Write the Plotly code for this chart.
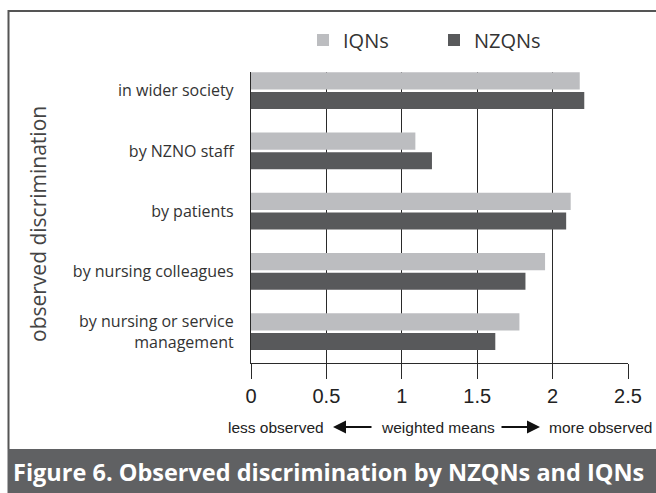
import plotly.graph_objects as go

categories = ["in wider society", "by NZNO staff", "by patients",
              "by nursing colleagues", "by nursing or service<br>management"]
iqn_values = [2.18, 1.09, 2.12, 1.95, 1.78]
nzqn_values = [2.21, 1.20, 2.09, 1.82, 1.62]
x_ticks = [0, 0.5, 1, 1.5, 2, 2.5]
x_tick_labels = ["0", "0.5", "1", "1.5", "2", "2.5"]

W, H = 656, 493
L, R, T, B = 251, 628, 72, 363


def px(x):
    return (x - L) / (R - L)


def py(y):
    return (B - y) / (B - T)


fig = go.Figure()
fig.add_trace(go.Bar(y=categories, x=iqn_values, orientation="h", name="IQNs",
                     marker=dict(color="#bcbdc0", line=dict(width=0))))
fig.add_trace(go.Bar(y=categories, x=nzqn_values, orientation="h", name="NZQNs",
                     marker=dict(color="#58595b", line=dict(width=0))))

fig.update_layout(
    width=W, height=H,
    margin=dict(l=L, r=W - R, t=T, b=H - B, pad=0),
    paper_bgcolor="white", plot_bgcolor="white",
    barmode="group", bargap=0.35, bargroupgap=0.13,
    font=dict(family="Open Sans, Liberation Sans, sans-serif", color="#333"),
    legend=dict(orientation="h", x=px(303), y=py(40), xanchor="left", yanchor="middle",
                font=dict(size=20, family="Open Sans", color="#333"),
                entrywidth=86, entrywidthmode="pixels", traceorder="normal",
                bgcolor="rgba(0,0,0,0)"),
    xaxis=dict(range=[0, 2.5], tickvals=x_ticks, ticktext=x_tick_labels,
               showgrid=True, gridcolor="#2a2a2a", gridwidth=1.3,
               zeroline=False, showline=True, linecolor="#2a2a2a", linewidth=1.3,
               ticks="outside", ticklen=15, tickcolor="#2a2a2a", tickwidth=1.3,
               tickfont=dict(family="Liberation Sans, Arial", size=20, color="#222")),
    yaxis=dict(type="category", range=[4.52, -0.31], showgrid=False, zeroline=False,
               showline=True, linecolor="#2a2a2a", linewidth=1.3, ticks="",
               ticklabelstandoff=13,
               tickfont=dict(family="Open Sans, sans-serif", size=16, color="#333")),
)

shapes = []
shapes.append(dict(type="line", xref="paper", yref="paper", x0=px(8.5), x1=px(8.5),
                   y0=py(10), y1=py(449), line=dict(color="#555", width=2)))
shapes.append(dict(type="line", xref="paper", yref="paper", x0=px(8), x1=px(660),
                   y0=py(11), y1=py(11), line=dict(color="#555", width=2)))
shapes.append(dict(type="rect", xref="paper", yref="paper", x0=px(7.5), x1=px(660),
                   y0=py(449), y1=py(497), fillcolor="#606163", line=dict(width=0),
                   layer="below"))
fig.update_layout(shapes=shapes)

ann = []
ann.append(dict(text="Figure 6. Observed discrimination by NZQNs and IQNs", xref="paper", yref="paper",
                x=px(11), y=py(472), xanchor="left", yanchor="middle", showarrow=False,
                font=dict(family="Open Sans, sans-serif", size=23.5, color="white", weight="bold")))
ann.append(dict(text="observed discrimination", xref="paper", yref="paper",
                x=px(38), y=py(224), xanchor="center", yanchor="middle", textangle=-90,
                showarrow=False, font=dict(family="Open Sans, sans-serif", size=21, color="#444")))
ann.append(dict(text="less observed", xref="paper", yref="paper", x=px(326), y=py(427),
                xanchor="right", yanchor="middle", showarrow=False,
                font=dict(family="Liberation Sans, Arial", size=15.5, color="#222")))
ann.append(dict(text="weighted means", xref="paper", yref="paper", x=px(438), y=py(427),
                xanchor="center", yanchor="middle", showarrow=False,
                font=dict(family="Liberation Sans, Arial", size=15.5, color="#222")))
ann.append(dict(text="more observed", xref="paper", yref="paper", x=px(547), y=py(427),
                xanchor="left", yanchor="middle", showarrow=False,
                font=dict(family="Liberation Sans, Arial", size=15.5, color="#222")))
ann.append(dict(text="", xref="paper", yref="paper", x=px(333), y=py(427), ax=40, ay=0,
                showarrow=True, arrowhead=2, arrowsize=1.3, arrowwidth=2, arrowcolor="#111"))
ann.append(dict(text="", xref="paper", yref="paper", x=px(540), y=py(427), ax=-40, ay=0,
                showarrow=True, arrowhead=2, arrowsize=1.3, arrowwidth=2, arrowcolor="#111"))
fig.update_layout(annotations=ann)

fig.write_html("out.html", config={"displayModeBar": False},
               post_script="document.body.style.margin='0';document.body.style.overflow='hidden';")
